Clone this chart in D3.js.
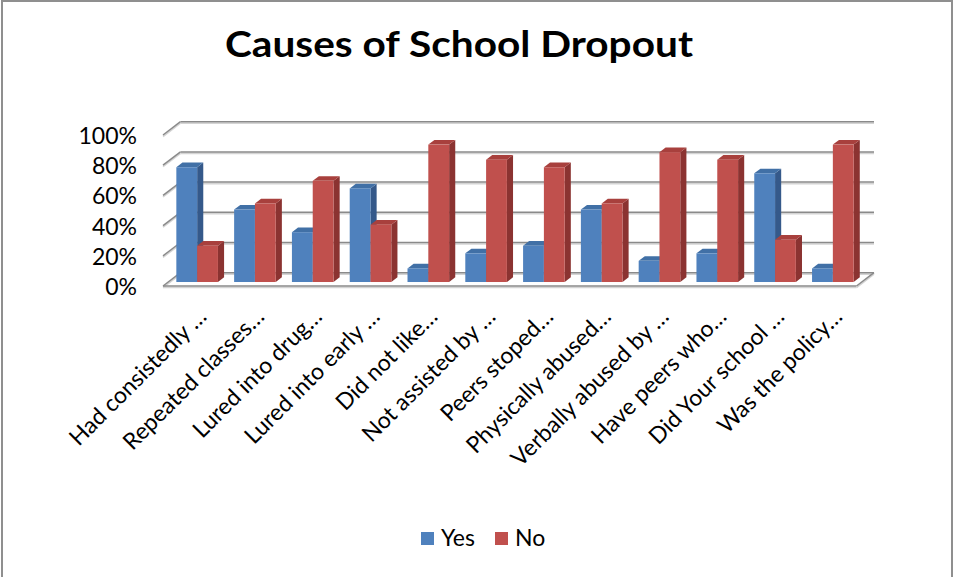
<!DOCTYPE html>
<html>
<head>
<meta charset="utf-8">
<script src="https://cdn.jsdelivr.net/npm/d3@7"></script>
<style>
  html, body { margin: 0; padding: 0; background: #fff; }
  svg { display: block; }
  text { font-family: Lato, "Open Sans", sans-serif; fill: #000; }
</style>
</head>
<body>
<svg id="chart" width="954" height="577"></svg>
<script>
// Survey answers per cause (share of respondents)
const categories = [
  "Had consistedly …", "Repeated classes…", "Lured into drug…", "Lured into early …",
  "Did not like…", "Not assisted by …", "Peers stoped…", "Physically abused…",
  "Verbally abused by …", "Have peers who…", "Did Your school …", "Was the policy…"
];
const seriesNames = ["Yes", "No"];
const yesValues = [0.76, 0.48, 0.33, 0.62, 0.09, 0.19, 0.24, 0.48, 0.14, 0.19, 0.72, 0.09];
const noValues  = [0.24, 0.52, 0.67, 0.38, 0.91, 0.81, 0.76, 0.52, 0.86, 0.81, 0.28, 0.91];
const yTicks = [0, 0.2, 0.4, 0.6, 0.8, 1.0];
const titleText = "Causes of School Dropout";

const colors = {
  Yes: { front: "#4f81bd", side: "#35598a", top: "#4170a6" },
  No:  { front: "#c0504d", side: "#8b3331", top: "#a8403d" }
};

const svg = d3.select("#chart");

// outer frame
svg.append("rect")
  .attr("x", 2).attr("y", 1).attr("width", 950).attr("height", 620)
  .attr("fill", "#fff").attr("stroke", "#8f8f8f").attr("stroke-width", 2);

// 3D projection: depth vector from front plane to back wall
const depth = { dx: 17.5, dy: -13.3 };
const barDepth = { t0: 0.3, t1: 0.65 };

const x0 = d3.scaleBand().domain(categories).range([163, 856.5])
  .paddingInner(0.28).paddingOuter(0.14);
const x1 = d3.scaleBand().domain(seriesNames).range([0, x0.bandwidth()]);
const y = d3.scaleLinear().domain([0, 1]).range([286, 135]);

const xFront0 = 163, xFront1 = 856.5;

function line(g, x1p, y1p, x2p, y2p) {
  g.append("line").attr("x1", x1p).attr("y1", y1p + 1.5).attr("x2", x2p).attr("y2", y2p + 1.5)
    .attr("stroke", "#d4d4d4").attr("stroke-width", 1.6);
  g.append("line").attr("x1", x1p).attr("y1", y1p).attr("x2", x2p).attr("y2", y2p)
    .attr("stroke", "#8a8a8a").attr("stroke-width", 1.5);
}

// gridlines: side wall diagonals + back wall horizontals
const grid = svg.append("g");
yTicks.forEach(t => {
  const yf = y(t);
  line(grid, xFront0, yf, xFront0 + depth.dx, yf + depth.dy);
  line(grid, xFront0 + depth.dx, yf + depth.dy, xFront1 + depth.dx, yf + depth.dy);
});
// floor front edge and right edge
line(grid, xFront0, y(0), xFront1, y(0));
line(grid, xFront1, y(0), xFront1 + depth.dx, y(0) + depth.dy);

// y axis labels
svg.append("g").selectAll("text").data(yTicks).join("text")
  .attr("x", 137).attr("y", d => y(d))
  .attr("text-anchor", "end").attr("dominant-baseline", "central")
  .style("font-size", "23px")
  .text(d => d3.format(".0%")(d));

// bars
const rows = categories.map((c, i) => ({ cat: c, Yes: yesValues[i], No: noValues[i] }));
const bars = svg.append("g");
const fdx = depth.dx * barDepth.t0, fdy = depth.dy * barDepth.t0;
const bdx = depth.dx * (barDepth.t1 - barDepth.t0), bdy = depth.dy * (barDepth.t1 - barDepth.t0);

rows.forEach(r => {
  seriesNames.forEach(s => {
    const xl = x0(r.cat) + x1(s) + fdx;
    const xr = xl + x1.bandwidth();
    const yb = y(0) + fdy;
    const yt = y(r[s]) + fdy;
    const c = colors[s];
    const g = bars.append("g");
    g.append("path")
      .attr("d", `M${xr},${yt}L${xr + bdx},${yt + bdy}L${xr + bdx},${yb + bdy}L${xr},${yb}Z`)
      .attr("fill", c.side);
    g.append("path")
      .attr("d", `M${xl},${yt}L${xl + bdx},${yt + bdy}L${xr + bdx},${yt + bdy}L${xr},${yt}Z`)
      .attr("fill", c.top);
    g.append("rect")
      .attr("x", xl).attr("y", yt).attr("width", xr - xl).attr("height", yb - yt)
      .attr("fill", c.front);
  });
});

// category labels, rotated
svg.append("g").selectAll("text").data(categories).join("text")
  .attr("transform", d => `translate(${x0(d) + x0.bandwidth() / 2 + 16},${318}) rotate(-45)`)
  .attr("text-anchor", "end")
  .style("font-size", "23px")
  .text(d => d);

// title
svg.append("text")
  .attr("x", 459).attr("y", 57)
  .attr("text-anchor", "middle")
  .attr("textLength", 468).attr("lengthAdjust", "spacingAndGlyphs")
  .style("font-size", "37px").style("font-weight", "bold")
  .text(titleText);

// legend
const legend = svg.append("g");
const legendItems = [{ name: "Yes", x: 421 }, { name: "No", x: 495 }];
legendItems.forEach(item => {
  legend.append("rect").attr("x", item.x).attr("y", 532).attr("width", 13).attr("height", 13)
    .attr("fill", colors[item.name].front);
  legend.append("text").attr("x", item.x + 20).attr("y", 546)
    .style("font-size", "23px").text(item.name);
});
</script>
</body>
</html>
